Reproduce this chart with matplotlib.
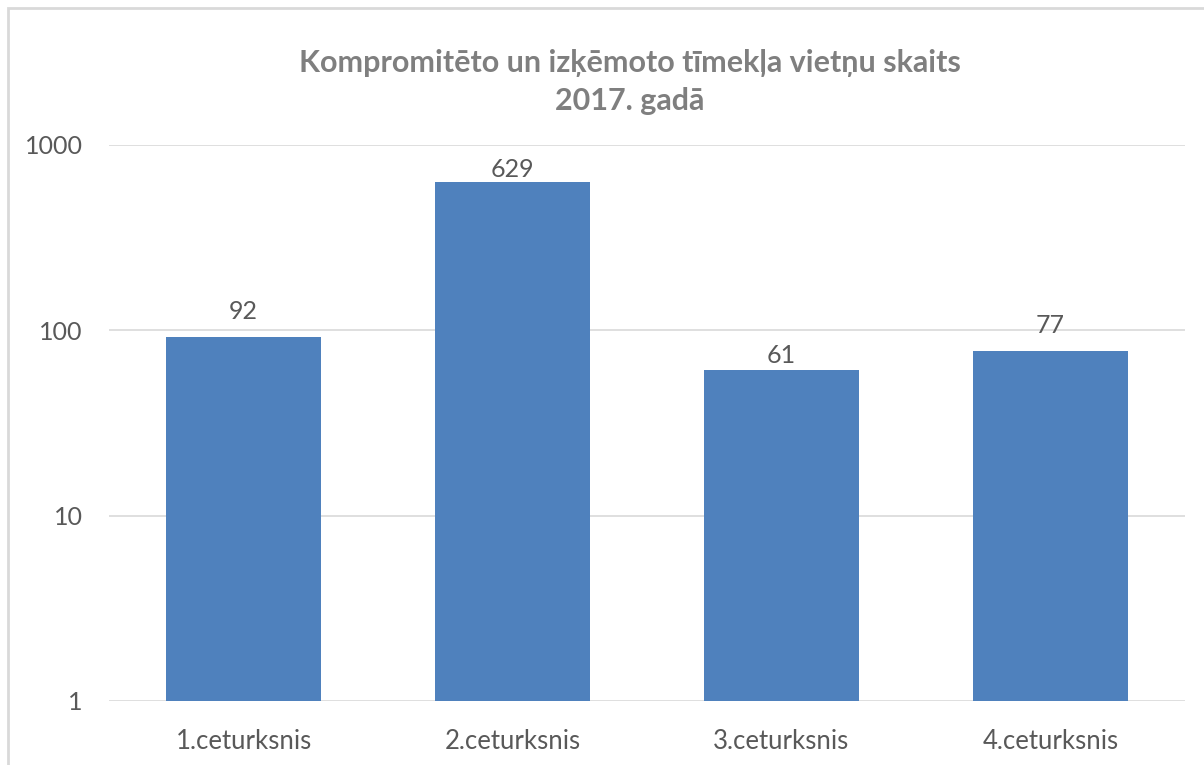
import matplotlib.pyplot as plt
from matplotlib.patches import Rectangle

categories = ["1.ceturksnis", "2.ceturksnis", "3.ceturksnis", "4.ceturksnis"]
values = [92, 629, 61, 77]
yticks = [1, 10, 100, 1000]
title = "Kompromitēto un izķēmoto tīmekļa vietņu skaits\n2017. gadā"

# label gaps above bars (points), as placed in the original
label_gap = [10, 1, 2, 10]

plt.rcParams['font.family'] = ['Lato', 'DejaVu Sans']

fig = plt.figure(figsize=(12.04, 7.65), dpi=100)
fig.patches.append(Rectangle((8 / 1204, -0.1), 1.2, 1.1 - 8 / 765, transform=fig.transFigure,
                             fill=False, edgecolor='#d9d9d9', linewidth=2))
ax = fig.add_axes([109 / 1204, 1 - 701 / 765, 1076 / 1204, 556 / 765])

x = range(len(categories))
ax.bar(x, values, width=0.573, color='#4f81bd', zorder=3)
for i, v, g in zip(x, values, label_gap):
    ax.annotate(str(v), (i, v), xytext=(0, g), textcoords='offset points',
                ha='center', va='bottom', fontsize=18, color='#595959')

ax.set_yscale('log')
ax.set_ylim(1, 1000)
ax.set_xlim(-0.5, len(categories) - 0.5)
ax.set_yticks(yticks)
ax.set_yticklabels([str(t) for t in yticks])
ax.minorticks_off()
ax.set_xticks(list(x))
ax.set_xticklabels(categories)
ax.tick_params(axis='y', length=0, labelsize=18, labelcolor='#595959', pad=19)
ax.tick_params(axis='x', length=0, labelsize=18.5, labelcolor='#595959', pad=20)
ax.grid(axis='y', color='#d9d9d9', linewidth=1.2, zorder=0)
for s in ax.spines.values():
    s.set_visible(False)

fig.text(0.523, 1 - 82 / 765, title, ha='center', va='center', fontsize=22,
         fontweight='bold', color='#7f7f7f', linespacing=1.4)

fig.savefig('out.png', dpi=100)
